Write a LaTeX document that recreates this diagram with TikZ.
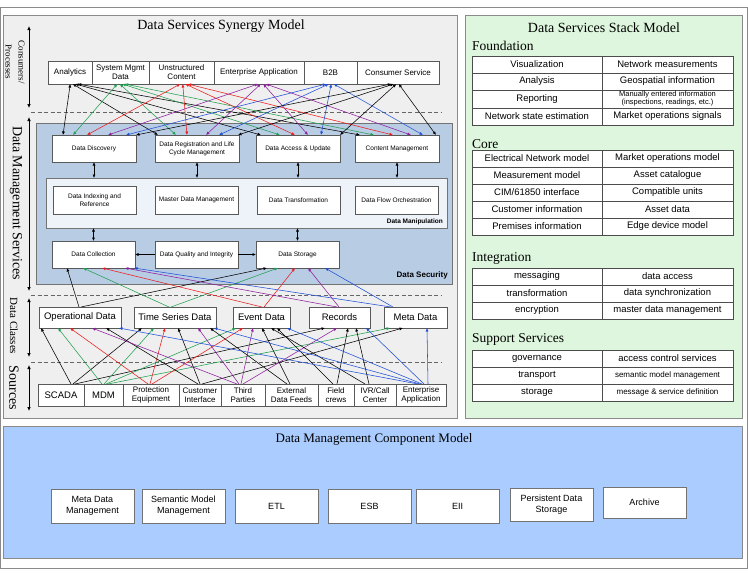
\documentclass[tikz,border=0pt]{standalone}
\usepackage{fontspec}
\setmainfont{Liberation Serif}
\setsansfont{Liberation Sans}
\usetikzlibrary{arrows.meta,calc}
\definecolor{cgreen}{HTML}{20A050}
\definecolor{cred}{HTML}{EE1C1C}
\definecolor{cpurp}{HTML}{8E1E9E}
\definecolor{cblue}{HTML}{1F4FD8}
\definecolor{panelgray}{HTML}{EFEFEF}
\definecolor{panelgreen}{HTML}{DDF6DD}
\definecolor{panelblue}{HTML}{AACCFF}
\definecolor{secblue}{HTML}{B8CCE4}
\definecolor{manblue}{HTML}{EEF2F9}
\definecolor{edgegray}{HTML}{8A8A8A}
\newcommand\fsz[2]{\fontsize{#1}{#2}\selectfont}
\newcommand\bxx[6][]{\node[box,minimum width=#4pt,minimum height=#5pt,#1] (#2) at (#3) {#6};}
\newcommand\trow[6][]{%
 \node[cell,minimum width=130pt,minimum height=#4pt] (#2l) at (472,#3) {#5};
 \node[cell,minimum width=131pt,minimum height=#4pt,#1] (#2r) at (602,#3) {#6};}
\begin{document}
\begin{tikzpicture}[x=1pt,y=-1pt,
  box/.style={draw=black!65,fill=white,line width=0.6pt,inner sep=1pt,outer sep=0pt,align=center,anchor=north west,font=\sffamily\fsz{8}{9}},
  small/.style={font=\sffamily\fsz{6.5}{8}},
  cls/.style={font=\sffamily\fsz{9.5}{11}},
  bot/.style={font=\sffamily\fsz{9}{11},draw=black!55},
  panel/.style={draw=edgegray,line width=0.8pt,anchor=north west,inner sep=0pt,outer sep=0pt},
  cell/.style={draw=black!70,fill=white,line width=0.6pt,inner sep=0pt,outer sep=0pt,anchor=north west,align=center,font=\sffamily\fsz{9.5}{10}},
  con/.style={line width=0.55pt,-{Latex[length=3.5pt,width=3pt]}},
  dcon/.style={line width=0.55pt,{Latex[length=3.5pt,width=3pt]}-{Latex[length=3.5pt,width=3pt]}},
  sep/.style={dash pattern=on 4pt off 2.5pt,draw=black!60,line width=0.7pt},
  axis/.style={line width=0.7pt,{Latex[length=4pt,width=3.5pt]}-{Latex[length=4pt,width=3.5pt]}},
  ttl/.style={font=\fsz{14}{16},inner sep=0pt},
  hd/.style={font=\fsz{13.5}{15},anchor=west,inner sep=0pt},
]
\useasboundingbox (0,0) rectangle (748,576);
\fill[white] (0,0) rectangle (748,576);
\draw[edgegray,line width=0.8pt] (0.5,7) rectangle (747.5,568);

% panels
\node[panel,fill=panelgray,minimum width=454pt,minimum height=403pt] (lp) at (3,15) {};
\node[panel,fill=panelgreen,minimum width=277pt,minimum height=403pt] (rp) at (465,15) {};
\node[panel,fill=panelblue,minimum width=739pt,minimum height=132pt] (bp) at (3,426) {};

\node[ttl] (lpt) at (221,26) {Data Services Synergy Model};
\node[ttl] (rpt) at (604,28) {Data Services Stack Model};
\node[ttl,font=\fsz{13}{15}] (bpt) at (374,439) {Data Management Component Model};

% left axis labels
\node[rotate=-90,align=center,font=\fsz{9}{13},inner sep=0pt] (lab1) at (15,62) {Consumers/\\Processes};
\node[rotate=-90,font=\fsz{14}{16},inner sep=0pt] (lab2) at (16,203) {Data Management Services};
\node[rotate=-90,font=\fsz{11}{13},inner sep=0pt] (lab3) at (14,326) {Data Classes};
\node[rotate=-90,font=\fsz{14}{16},inner sep=0pt] (lab4) at (14,388) {Sources};
\draw[axis] (29,26) -- (29,108);
\draw[axis] (29,117) -- (29,291);
\draw[axis] (29,298) -- (29,357);
\draw[axis] (29,365) -- (29,411);
\draw[sep] (31,112) -- (442,112);
\draw[sep] (31,295) -- (442,295);
\draw[sep] (31,362) -- (442,362);

% data security / manipulation
\node[panel,draw=black!55,fill=secblue,minimum width=416pt,minimum height=161pt] (sec) at (36,123) {};
\node[font=\sffamily\bfseries\fsz{8}{9},anchor=south east,inner sep=0pt] (seclab) at (448,279) {Data Security};
\node[panel,draw=black!55,fill=manblue,minimum width=401pt,minimum height=50pt] (man) at (46,178) {};
\node[font=\sffamily\bfseries\fsz{6.5}{8},anchor=south east,inner sep=0pt] (manlab) at (443,225) {Data Manipulation};

% consumers
\bxx{an}{48,61}{44}{23}{Analytics}
\bxx{sm}{92,61}{57}{23}{System Mgmt\\Data}
\bxx{uc}{149,61}{65}{23}{Unstructured\\Content}
\bxx{ea}{214,61}{90}{23}{Enterprise Application}
\bxx{bb}{304,61}{53}{23}{B2B}
\bxx{cs}{357,61}{82}{23}{Consumer Service}

% row 1
\bxx[small]{dd}{52,135}{84}{27}{Data Discovery}
\bxx[small]{dr}{155,135}{84}{27}{Data Registration and Life\\Cycle Management}
\bxx[small]{da}{256,135}{84}{27}{Data Access \& Update}
\bxx[small]{cm}{355,135}{84}{27}{Content Management}
% row 2
\bxx[small]{ix}{53,186}{83}{28}{Data Indexing and\\Reference}
\bxx[small]{mdmg}{155,186}{83}{28}{Master Data Management}
\bxx[small]{tr}{257,186}{83}{28}{Data Transformation}
\bxx[small]{fo}{355,186}{83}{28}{Data Flow Orchestration}
% row 3
\bxx[small]{dc}{52,241}{83}{27}{Data Collection}
\bxx[small]{dq}{155,241}{83}{27}{Data Quality and Integrity}
\bxx[small]{ds}{256,241}{83}{27}{Data Storage}

\draw[dcon] (dd.south) -- (dd.south |- man.north);
\draw[dcon] (dr.south) -- (dr.south |- man.north);
\draw[dcon] (da.south) -- (da.south |- man.north);
\draw[dcon] (cm.south) -- (cm.south |- man.north);
\draw[dcon] (dc.north) -- (dc.north |- man.south);
\draw[dcon] (ds.north) -- (ds.north |- man.south);
\draw[con] (dq.west) -- (dc.east);
\draw[con] (dq.east) -- (ds.west);

% data classes
\bxx[cls]{op}{39,307}{82}{21}{Operational Data}
\bxx[cls]{ts}{134,307}{82}{21}{Time Series Data}
\bxx[cls]{ev}{233,307}{57}{21}{Event Data}
\bxx[cls]{re}{309,307}{61}{21}{Records}
\bxx[cls]{md}{384,307}{63}{21}{Meta Data}

% sources
\bxx[cls]{scada}{38,384}{46}{22}{SCADA}
\bxx[cls]{mdm}{84,384}{39}{22}{MDM}
\bxx{pe}{123,384}{56}{22}{Protection\\Equipment}
\bxx{ci}{179,384}{42}{22}{Customer\\Interface}
\bxx{tp}{221,384}{44}{22}{Third\\Parties}
\bxx{edf}{265,384}{53}{22}{External\\Data Feeds}
\bxx{fcr}{318,384}{36}{22}{Field\\crews}
\bxx{ivr}{354,384}{42}{22}{IVR/Call\\Center}
\bxx{ent}{396,384}{50}{22}{Enterprise\\Application}

% consumers <-> row 1
\def\odd{11,21,35,56,74,84}
\def\odr{3,21,32,51,64,83}
\def\oda{5,24,39,52,65,84}
\def\ocm{5,19,38,56,68,81}
\foreach \s/\sx/\c [count=\i from 0] in {an/26/black,sm/29/cgreen,uc/35/cred,ea/48/cpurp,bb/26/cblue,cs/38/black}{
  \foreach \d/\o [count=\j from 0] in {dd/\odd,dr/\odr,da/\oda,cm/\ocm}{
    \pgfmathsetmacro\tx{{\o}[\i]}
    \pgfmathsetmacro\ssx{\sx+(\j-1.5)*2.5}
    \draw[dcon,color=\c] ([xshift=\ssx pt]\s.south west) -- ([xshift=\tx pt]\d.north west);
  }}

% classes -> row 3
\foreach \s/\so/\d/\dx/\c in {op/40/dc/15/black,op/42/ds/11/black,ts/35/dc/31/cgreen,ts/37/ds/22/cgreen,
  ev/29/dc/50/cred,ev/31/ds/39/cred,re/28/dc/73/cpurp,re/30/ds/52/cpurp,md/7/dc/82/cblue,md/9/ds/69/cblue}{
  \draw[con,color=\c] ([xshift=\so pt]\s.north west) -- ([xshift=\dx pt]\d.south west);
}

% sources -> classes
\foreach \s/\so/\d/\dx/\c in {
  scada/33/op/2/black,scada/35/ts/8/black,scada/37/re/16/black,
  mdm/18/op/19/cgreen,mdm/20/ts/20/cgreen,mdm/22/ev/3/cgreen,mdm/24/md/6/cgreen,
  pe/25/op/31/cred,pe/27/ts/31/cred,pe/29/ev/10/cred,
  ci/19/op/67/black,ci/21/ts/44/black,ci/23/md/19/black,
  tp/16/op/53/cpurp,tp/18/ts/64/cpurp,tp/20/ev/20/cpurp,tp/22/re/28/cpurp,
  edf/22/ts/76/black,edf/25/ev/29/black,
  fcr/15/ev/44/black,fcr/19/re/39/black,
  ivr/11/ev/38/black,ivr/15/re/47/black,
  ent/22/op/80/cblue,ent/24/ts/80/cblue,ent/26/ev/54/cblue,ent/28/re/57/cblue,ent/32/md/43/cblue}{
  \draw[con,color=\c] ([xshift=\so pt]\s.north west) -- ([xshift=\dx pt]\d.south west);
}

% stack model
\node[hd] (hfo) at (472,46) {Foundation};
\trow{fo1}{56}{17}{Visualization}{Network measurements}
\trow{fo2}{73}{17}{Analysis}{Geospatial information}
\trow[font=\sffamily\fsz{7.5}{8}]{fo3}{90}{18}{Reporting}{Manually entered information\\(inspections, readings, etc.)}
\trow{fo4}{108}{17}{Network state estimation}{Market operations signals}

\node[hd] (hco) at (472,144) {Core};
\trow{co1}{150}{17}{Electrical Network model}{Market operations model}
\trow{co2}{167}{17}{Measurement model}{Asset catalogue}
\trow{co3}{184}{17}{CIM/61850 interface}{Compatible units}
\trow{co4}{201}{17}{Customer information}{Asset data}
\trow{co5}{218}{17}{Premises information}{Edge device model}

\node[hd] (hin) at (472,258) {Integration};
\trow{in1}{268}{17}{messaging}{data access}
\trow{in2}{285}{17}{transformation}{data synchronization}
\trow{in3}{302}{17}{encryption}{master data management}

\node[hd] (hsu) at (472,339) {Support Services};
\trow{su1}{350}{17}{governance}{access control services}
\trow[font=\sffamily\fsz{8}{9}]{su2}{367}{17}{transport}{semantic model management}
\trow[font=\sffamily\fsz{8}{9}]{su3}{384}{17}{storage}{message \& service definition}

% component model
\bxx[bot]{mdmc}{51,489}{83}{34}{Meta Data\\Management}
\bxx[bot]{smm}{142,489}{83}{34}{Semantic Model\\Management}
\bxx[bot]{etl}{235,489}{83}{34}{ETL}
\bxx[bot]{esb}{328,489}{83}{34}{ESB}
\bxx[bot]{eii}{416,489}{83}{34}{EII}
\bxx[bot]{pds}{510,488}{83}{33}{Persistent Data\\Storage}
\bxx[bot]{arc}{603,487}{83}{31}{Archive}
\end{tikzpicture}
\end{document}
